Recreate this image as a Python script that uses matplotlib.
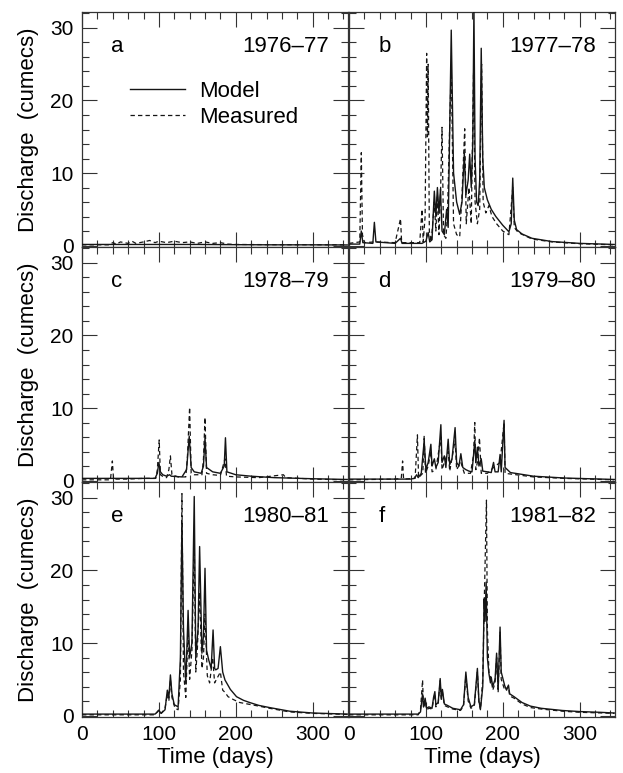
import matplotlib
matplotlib.use('Agg')
import matplotlib.pyplot as plt
from matplotlib.ticker import MultipleLocator

plt.rcParams['font.family'] = ['Liberation Sans', 'DejaVu Sans']

# ---------------- data (day, discharge in cumecs) ----------------
panel_letters = ['a', 'b', 'c', 'd', 'e', 'f']
seasons = ['1976–77', '1977–78', '1978–79', '1979–80', '1980–81', '1981–82']
series_labels = ['Model', 'Measured']
x_ticks = [0, 100, 200, 300]
y_ticks = [0, 10, 20, 30]

model_a = [(0, 0.15), (50, 0.15), (100, 0.15), (150, 0.15), (200, 0.12), (250, 0.1), (300, 0.1), (345, 0.08)]
meas_a = [(0, 0.1), (35, 0.1), (40, 0.4), (45, 0.2), (50, 0.5), (60, 0.3), (65, 0.6), (70, 0.3),
          (80, 0.5), (88, 0.7), (95, 0.4), (100, 0.6), (110, 0.4), (120, 0.6), (130, 0.4), (140, 0.5),
          (150, 0.3), (160, 0.5), (170, 0.3), (180, 0.4), (190, 0.2), (200, 0.15), (250, 0.12), (345, 0.1)]

model_b = [(0, 0.2), (14, 0.2), (16, 2.0), (18, 0.4), (31, 0.3), (33, 3.2), (35, 0.5), (60, 0.3),
           (67, 1.0), (69, 0.3), (95, 0.3), (100, 0.6), (103, 1.8), (105, 0.5), (108, 0.8), (111, 7.5),
           (113, 4.0), (115, 8.0), (117, 4.5), (119, 7.8), (121, 2.0), (124, 1.5), (127, 5.0), (129, 2.5),
           (133, 29.7), (136, 10.0), (140, 6.0), (144, 4.3), (147, 6.0), (150, 12.8), (152, 7.0),
           (155, 9.0), (157, 12.6), (159, 8.0), (161, 14.0), (162.5, 33.0), (164, 12.0), (166, 6.0),
           (168, 5.5), (170, 9.0), (172, 27.2), (174, 12.0), (176, 8.0), (180, 6.3), (185, 5.0),
           (191, 4.0), (200, 2.8), (208, 1.9), (211, 3.0), (213, 9.3), (215, 3.5), (218, 2.2),
           (225, 1.6), (238, 1.0), (264, 0.55), (300, 0.3), (345, 0.15)]
meas_b = [(0, 0.3), (14, 0.5), (16, 12.8), (17.5, 1.5), (20, 0.4), (33, 0.5), (60, 0.4), (67, 3.7),
          (68.5, 0.4), (92, 0.4), (95, 5.0), (96.5, 0.5), (99, 4.0), (101, 26.5), (102, 15.0),
          (103, 25.0), (104.5, 2.0), (107, 0.5), (111, 6.0), (113, 2.0), (115, 7.0), (117, 1.5),
          (119, 7.0), (121, 16.3), (123, 1.5), (126, 1.0), (128, 4.0), (133, 25.0), (136, 3.0),
          (140, 1.5), (144, 1.2), (147, 7.0), (150.5, 16.1), (152.5, 3.0), (156, 8.0), (159, 3.0),
          (162, 23.9), (164, 6.0), (167, 3.0), (170, 5.0), (172.5, 25.0), (174.5, 6.0), (178, 4.5),
          (182, 5.5), (186, 4.0), (192, 3.0), (200, 2.0), (208, 1.5), (213, 8.0), (215, 2.5),
          (220, 1.8), (238, 0.9), (264, 0.5), (300, 0.25), (345, 0.1)]

model_c = [(0, 0.3), (95, 0.3), (98, 1.0), (100, 2.5), (102, 1.2), (105, 0.8), (110, 0.6), (114, 0.8),
           (116, 0.6), (130, 0.5), (136, 1.5), (139.5, 6.1), (142, 1.8), (146, 1.2), (155, 1.0),
           (158, 2.0), (160, 5.9), (162, 1.8), (170, 1.2), (180, 1.0), (185, 2.0), (186.6, 5.9),
           (188.5, 1.2), (200, 0.8), (220, 0.6), (250, 0.4), (300, 0.25), (345, 0.15)]
meas_c = [(0, 0.1), (37, 0.1), (39.5, 2.7), (41, 0.2), (60, 0.2), (80, 0.3), (96, 0.3), (98, 1.5),
          (100.4, 5.6), (102, 0.8), (106, 0.5), (110, 0.4), (113, 1.5), (115, 3.4), (117, 0.8),
          (125, 0.5), (135, 0.5), (137, 3.0), (140, 10.1), (142, 1.0), (146, 0.8), (156, 0.8),
          (158, 3.0), (160, 8.7), (162, 1.0), (170, 0.8), (180, 0.7), (186, 3.0), (188, 0.6),
          (200, 0.5), (230, 0.4), (262, 0.8), (265, 0.4), (300, 0.2), (345, 0.1)]

model_d = [(0, 0.2), (80, 0.2), (85, 0.3), (88, 0.8), (90, 0.4), (94, 1.0), (97.8, 5.5), (100, 1.5),
           (103, 2.5), (106.5, 5.0), (108, 2.0), (111, 3.0), (113, 1.8), (116, 2.5), (119.5, 7.7),
           (121, 2.5), (124, 3.4), (126, 1.8), (129, 5.7), (131, 2.2), (134, 3.0), (138, 7.3),
           (140, 2.5), (143, 2.0), (145.5, 3.7), (148, 1.8), (152, 1.5), (156, 1.3), (160, 1.2),
           (162, 3.5), (163.6, 5.5), (165, 2.5), (167, 4.6), (169, 2.0), (172, 3.0), (174, 1.3),
           (180, 1.2), (185, 1.1), (188, 2.5), (190, 1.2), (194, 1.2), (196.5, 3.6), (198, 1.2),
           (201.7, 8.3), (203, 1.8), (210, 1.1), (240, 0.6), (280, 0.35), (345, 0.15)]
meas_d = [(0, 0.1), (60, 0.2), (68, 0.3), (69.7, 2.7), (71, 0.2), (86, 0.3), (89, 6.3), (90.5, 0.4),
          (96, 1.0), (97.8, 6.2), (99.5, 1.0), (103, 2.0), (106.5, 4.0), (108, 1.2), (113, 1.5),
          (119.5, 6.0), (121, 1.5), (124, 2.5), (129, 4.0), (131, 1.3), (138, 5.5), (140, 1.5),
          (145.5, 2.5), (150, 1.0), (158, 1.0), (162, 3.5), (163.6, 8.0), (165, 1.5), (167, 2.5),
          (169.7, 5.9), (172, 1.0), (180, 1.0), (188, 1.8), (196.5, 2.5), (201.7, 8.0), (203, 1.0),
          (210, 0.9), (240, 0.5), (280, 0.3), (345, 0.1)]

model_e = [(0, 0.2), (95, 0.2), (100, 0.7), (103, 0.3), (108, 0.8), (111, 3.5), (113, 2.5), (115, 5.6),
           (117, 3.0), (120, 1.5), (125, 1.2), (128, 8.0), (130, 26.9), (132, 12.0), (135, 4.4),
           (138, 14.5), (140, 8.0), (143, 10.0), (146, 30.2), (148, 8.0), (151, 12.0), (153, 23.3),
           (156, 8.6), (158, 11.0), (160, 20.3), (162, 9.0), (165, 7.6), (168, 6.5), (170.5, 11.8),
           (172.5, 6.5), (174, 6.3), (177, 6.5), (180, 9.5), (183, 6.0), (186, 4.9), (193, 3.6),
           (201, 2.6), (210, 2.1), (218, 1.8), (230, 1.4), (244, 1.1), (270, 0.6), (300, 0.35), (345, 0.2)]
meas_e = [(0, 0.1), (95, 0.1), (100, 0.8), (103, 0.3), (108, 1.0), (111, 3.0), (113, 2.0), (115, 5.0),
          (117, 2.5), (121, 1.0), (125, 0.8), (128, 5.0), (130, 30.6), (132, 6.0), (135, 2.5),
          (138, 12.0), (140, 5.0), (143, 9.0), (146, 24.0), (148, 6.0), (150, 9.0), (153, 17.0),
          (156, 6.5), (158, 8.0), (160, 14.0), (163, 5.5), (166, 4.5), (170, 8.0), (172.5, 4.5),
          (175, 5.0), (180, 6.0), (183, 3.5), (186, 3.2), (190, 2.6), (197, 2.2), (205, 1.8),
          (215, 1.6), (230, 1.3), (244, 1.0), (270, 0.5), (300, 0.3), (345, 0.15)]

model_f = [(0, 0.2), (90, 0.2), (93, 0.5), (95.7, 3.0), (97, 1.2), (99, 2.4), (101, 1.0), (104, 1.2),
           (108, 1.0), (110, 2.5), (111.7, 3.3), (113, 1.5), (116, 1.8), (118.6, 5.1), (120, 2.5),
           (121.5, 3.6), (124, 1.6), (128, 1.4), (135, 1.0), (145, 0.8), (149, 1.5), (152, 6.0),
           (155, 2.5), (158.6, 1.2), (163, 1.5), (167, 6.5), (169, 2.0), (171, 0.9), (174, 4.0),
           (175.8, 16.1), (177, 13.0), (178.4, 18.4), (180, 8.0), (182, 5.8), (184, 4.5), (185, 5.3),
           (187, 4.0), (190, 5.0), (192, 8.6), (194, 3.6), (196.5, 12.2), (198, 6.0), (202.6, 4.1),
           (205, 3.5), (207.4, 4.2), (209, 3.0), (214.7, 2.6), (225, 1.8), (236, 1.3), (250, 1.0),
           (277.5, 0.7), (300, 0.55), (326, 0.45), (345, 0.35)]
meas_f = [(0, 0.1), (90, 0.1), (93, 0.8), (95.7, 4.9), (97, 1.0), (99, 2.0), (101, 0.8), (104, 1.0),
          (108, 0.9), (110, 2.2), (111.7, 3.0), (113, 1.2), (116, 1.6), (118.6, 4.8), (120, 2.0),
          (121.5, 3.3), (124, 1.4), (128, 1.2), (135, 0.9), (145, 0.7), (149, 1.3), (152, 5.5),
          (155, 2.0), (158.6, 1.0), (163, 1.3), (167, 6.0), (169, 1.8), (171, 0.8), (174, 5.0),
          (176, 16.0), (178.8, 29.7), (180, 12.0), (182, 6.0), (185, 5.0), (187, 3.5), (190, 4.5),
          (192, 8.0), (194, 3.2), (196.5, 11.5), (198, 5.0), (202.6, 3.5), (207.4, 4.0), (209, 2.7),
          (214.7, 2.4), (225, 1.6), (236, 1.1), (250, 0.9), (277.5, 0.6), (300, 0.45), (345, 0.3)]

models = [model_a, model_b, model_c, model_d, model_e, model_f]
measured = [meas_a, meas_b, meas_c, meas_d, meas_e, meas_f]

# ---------------- figure ----------------
W, H = 623, 773
fig = plt.figure(figsize=(W / 100, H / 100), dpi=100)
col_left = [82, 349]
ax_w = 266
row_top = [12, 247, 482]
ax_h = 235
line_col = '#151515'

for i in range(6):
    r, c = divmod(i, 2)
    ax = fig.add_axes([col_left[c] / W, 1 - (row_top[r] + ax_h) / H, ax_w / W, ax_h / H])
    md, mv = zip(*models[i])
    sd, sv = zip(*measured[i])
    ax.plot(sd, sv, color=line_col, lw=0.9, ls=(0, (3.5, 2.5)), label=series_labels[1], zorder=2)
    ax.plot(md, mv, color=line_col, lw=1.0, ls='-', label=series_labels[0], zorder=3)
    ax.set_xlim(0, 346)
    ax.set_ylim(-0.2, 32.2)
    ax.xaxis.set_major_locator(MultipleLocator(100))
    ax.xaxis.set_minor_locator(MultipleLocator(20))
    ax.yaxis.set_major_locator(MultipleLocator(10))
    ax.yaxis.set_minor_locator(MultipleLocator(2))
    ax.set_xticks(x_ticks)
    ax.set_yticks(y_ticks)
    ax.tick_params(which='both', direction='in', top=True, right=True, width=0.8, color='#333333',
                   labelsize=15, pad=6)
    ax.tick_params(which='major', length=10.5)
    ax.tick_params(which='minor', length=5)
    for s in ax.spines.values():
        s.set_linewidth(0.9)
        s.set_color('#333333')
    if c == 1:
        ax.tick_params(labelleft=False)
    else:
        ax.set_ylabel('Discharge  (cumecs)', fontsize=16, labelpad=8)
    if r < 2:
        ax.tick_params(labelbottom=False)
    else:
        ax.set_xlabel('Time (days)', fontsize=16, labelpad=2)
    ax.text(0.11, 0.855, panel_letters[i], transform=ax.transAxes, ha='left', va='center', fontsize=16)
    ax.text(0.928, 0.855, seasons[i], transform=ax.transAxes, ha='right', va='center', fontsize=16)
    if i == 0:
        h, l = ax.get_legend_handles_labels()
        ax.legend([h[1], h[0]], [l[1], l[0]], loc='center left', bbox_to_anchor=(0.18, 0.607),
                  frameon=False, fontsize=16, handlelength=2.5, handletextpad=0.6,
                  labelspacing=0.2, borderpad=0, borderaxespad=0)

fig.savefig('out.png', dpi=100)
